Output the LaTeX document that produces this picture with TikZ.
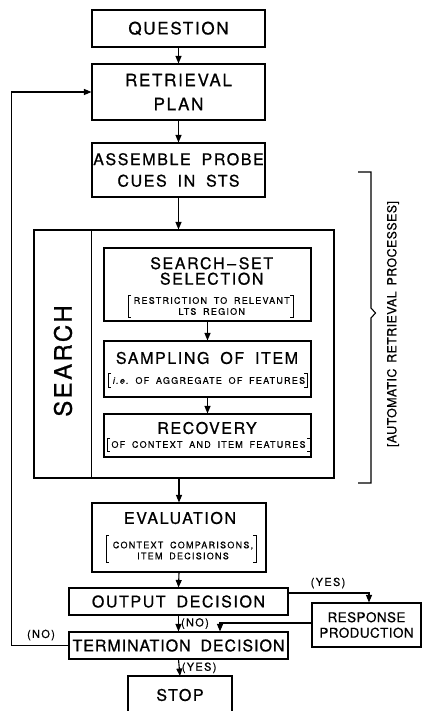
\documentclass[tikz,border=0pt]{standalone}
\usepackage{fontspec}
\setmainfont{TeX Gyre Heros}
\usetikzlibrary{arrows.meta}
\newfontfamily\boxfont[LetterSpace=10,WordSpace=1.8,FakeBold=0.8]{TeX Gyre Heros}
\newfontfamily\notefont[LetterSpace=14,WordSpace=1.8,FakeBold=0.6]{TeX Gyre Heros}
\newfontfamily\tagfont[LetterSpace=12,FakeBold=0.7]{TeX Gyre Heros}
\newfontfamily\plainfont[LetterSpace=3,WordSpace=1.5,FakeBold=0.7]{TeX Gyre Heros}
% square brackets drawn around the explanatory notes
\newcommand\sqbrackets[4]{%
  \draw[bracketline] (#1+3,#3) -- (#1,#3) -- (#1,#4) -- (#1+3,#4);
  \draw[bracketline] (#2-3,#3) -- (#2,#3) -- (#2,#4) -- (#2-3,#4);}
\begin{document}
\begin{tikzpicture}[x=1pt,y=-1pt,
  boxline/.style={line width=1.1pt},
  box/.style={draw, boxline, inner sep=0pt, align=center},
  bracketline/.style={line width=0.8pt},
  arr/.style={boxline, -{Triangle[length=7.5pt,width=6pt]}},
  mainfont/.style={font={\boxfont\fontsize{16}{21}\selectfont}},
  titlefont/.style={align=center, inner sep=0pt, font={\boxfont\fontsize{16}{15.5}\selectfont}},
  notefont/.style={align=center, inner sep=0pt, font={\notefont\fontsize{9}{11}\selectfont}},
  tag/.style={inner sep=2pt, font={\tagfont\fontsize{11}{13}\selectfont}}]
\useasboundingbox (0,0) rectangle (422,711);

% main column
\node[box, minimum width=173pt, minimum height=37pt,
      font={\boxfont\fontsize{17}{22}\selectfont}] (question) at (178.5,28.5) {QUESTION};
\node[box, minimum width=173pt, minimum height=56pt,
      font={\boxfont\fontsize{17}{24}\selectfont}] (plan) at (178.5,92) {RETRIEVAL\\PLAN};
\node[box, minimum width=173pt, minimum height=54pt,
      font={\boxfont\fontsize{16}{21.5}\selectfont}] (assemble) at (178.5,170) {ASSEMBLE PROBE\\CUES IN STS};

% search block
\node[box, minimum width=300pt, minimum height=248pt] (search) at (184,354) {};
\draw[boxline] ([xshift=58pt]search.north west) -- ([xshift=58pt]search.south west);
\node[rotate=90, inner sep=0pt, font={\boxfont\fontsize{24}{24}\selectfont}] (searchlbl) at (63,361) {SEARCH};

\node[box, minimum width=207pt, minimum height=73pt] (selection) at (207.5,284.5) {};
\node[titlefont] (seltitle) at (211.7,271) {SEARCH\,–\,SET\\SELECTION};
\node[notefont] (selnote) at (211.7,306) {RESTRICTION TO RELEVANT\\LTS REGION};
\sqbrackets{128}{293}{295}{317}

\node[box, minimum width=207pt, minimum height=56pt] (sampling) at (207.5,369) {};
\node[titlefont] (samptitle) at (207,358) {SAMPLING OF ITEM};
\node[notefont] (sampnote) at (209,380.5) {{\itshape i.e.}\ OF AGGREGATE OF FEATURES};
\sqbrackets{108}{307}{373}{387}

\node[box, minimum width=207pt, minimum height=43pt] (recovery) at (207.5,435.5) {};
\node[titlefont] (rectitle) at (207,428) {RECOVERY};
\node[notefont] (recnote) at (208.5,444.5) {OF CONTEXT AND ITEM FEATURES};
\sqbrackets{107}{310}{438}{451}

% bracket of the automatic processes
\draw[boxline] (358,172) -- (371,172) -- (371,308) -- (375.5,313) -- (371,318) -- (371,483) -- (358,483);
\node[rotate=90, inner sep=0pt, font={\plainfont\fontsize{12.5}{14}\selectfont}] (autolbl) at (393,324)
  {[AUTOMATIC RETRIEVAL PROCESSES]};

% evaluation and decisions
\node[box, minimum width=174pt, minimum height=69pt] (evaluation) at (179,537.5) {};
\node[titlefont] (evaltitle) at (180,518) {EVALUATION};
\node[notefont] (evalnote) at (183,550.5) {CONTEXT COMPARISONS,\\ITEM DECISIONS};
\sqbrackets{106}{256}{535}{562}

\node[box, minimum width=219pt, minimum height=27pt, mainfont] (output) at (178.5,601.5) {OUTPUT DECISION};
\node[box, minimum width=219pt, minimum height=27pt,
      font={\boxfont\addfontfeature{LetterSpace=6}\fontsize{16}{21}\selectfont}] (term) at (178.5,645.5) {TERMINATION DECISION};
\node[box, minimum width=109pt, minimum height=44pt,
      font={\plainfont\fontsize{13.5}{15.5}\selectfont}] (response) at (366.5,625) {RESPONSE\\PRODUCTION};

% stop box, open towards the lower edge
\draw[boxline] (128,713) |- (232,676) -- (232,713);
\coordinate (stoptop) at (180,676);
\node[inner sep=0pt, font={\boxfont\fontsize{16}{16}\selectfont}] (stop) at (180,695) {STOP};

% connectors
\draw[arr] (question.south) -- (plan.north);
\draw[arr] (plan.south) -- (assemble.north);
\draw[arr] (assemble.south) -- (assemble.south |- search.north);
\draw[arr] (selection.south) -- (sampling.north);
\draw[arr] (sampling.south) -- (recovery.north);
\draw[arr] (evaluation.north |- search.south) -- (evaluation.north);
\draw[arr] (evaluation.south) -- (output.north);
\draw[arr] (output.south) -- node[tag, right] (nolbl) {(NO)} (term.north);
\draw[arr] (term.south) -- node[tag, right] (yeslbl) {(YES)} (stoptop);
\draw[arr] ([yshift=8.5pt]output.east) -| ([xshift=2.5pt]response.north);
\node[tag] (yesresp) at (328,583) {(YES)};
\draw[arr] ([yshift=2pt]response.west) -| ([xshift=41.5pt]term.north);
\draw[arr] (term.west) -- ++(-57,0) |- (plan.west);
\node[tag] (noterm) at (41,635) {(NO)};
\end{tikzpicture}
\end{document}
